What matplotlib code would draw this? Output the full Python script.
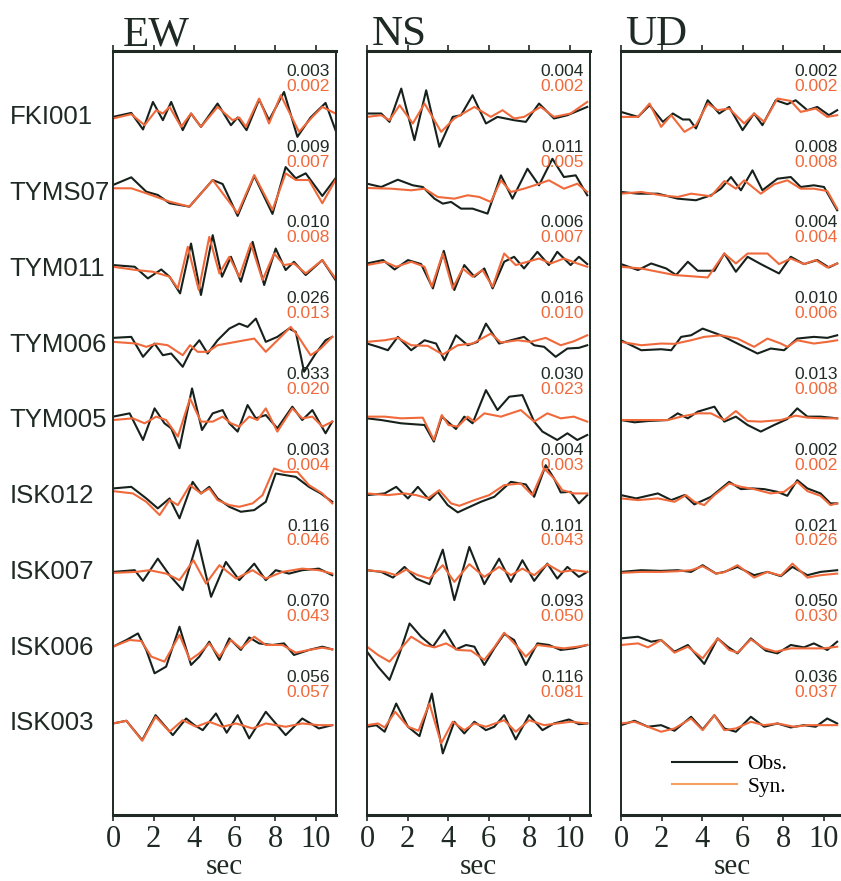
import numpy as np
import matplotlib.pyplot as plt
from matplotlib.lines import Line2D
from matplotlib.transforms import blended_transform_factory

plt.rcParams['font.family'] = ['Liberation Sans', 'DejaVu Sans']

stations = ['FKI001', 'TYMS07', 'TYM011', 'TYM006', 'TYM005',
            'ISK012', 'ISK007', 'ISK006', 'ISK003']
components = ['EW', 'NS', 'UD']

# peak amplitudes printed above each trace
ew_obs_max = ['0.003', '0.009', '0.010', '0.026', '0.033', '0.003', '0.116', '0.070', '0.056']
ew_syn_max = ['0.002', '0.007', '0.008', '0.013', '0.020', '0.004', '0.046', '0.043', '0.057']
ns_obs_max = ['0.004', '0.011', '0.006', '0.016', '0.030', '0.004', '0.101', '0.093', '0.116']
ns_syn_max = ['0.002', '0.005', '0.007', '0.010', '0.023', '0.003', '0.043', '0.050', '0.081']
ud_obs_max = ['0.002', '0.008', '0.004', '0.010', '0.013', '0.002', '0.021', '0.050', '0.036']
ud_syn_max = ['0.002', '0.008', '0.004', '0.006', '0.008', '0.002', '0.026', '0.030', '0.037']

# (sec, deflection); deflection in units where 76 = trace spacing
EW_FKI001_OBS = [(0, 0.3), (0.9, 4.3), (1.48, -12.3), (1.97, 15.3), (2.46, -3), (2.87, 15.3), (3.44, -13), (3.85, 3.7), (4.34, -9.7), (5.16, 13.7), (5.82, -8), (6.15, -0.3), (6.59, -13), (7.21, 17.7), (7.7, -3), (8.44, 25.3), (9.1, -19.7), (9.75, -0.3), (10.49, 14.3), (10.98, -13)]
EW_FKI001_SYN = [(0, -1.3), (0.9, 3), (1.56, -8), (2.13, 7), (2.46, 3.7), (2.79, 10.3), (3.36, -9.7), (3.85, 3.7), (4.34, -9.7), (5.16, 10.3), (5.9, -3), (6.23, -0.3), (6.56, -9.7), (7.21, 18.7), (7.7, -6.3), (8.28, 22), (9.18, -14.7), (9.84, 0.3), (10.33, 10.3), (10.98, 3.7)]
EW_TYMS07_OBS = [(0, 8), (0.9, 15.7), (1.64, 1.3), (2.21, -2), (2.79, -10.3), (3.77, -13.7), (4.92, 13), (5.41, 9), (6.15, -23), (6.97, 17), (7.87, -21), (8.52, 26), (9.02, 14.7), (9.51, 19.7), (10.33, -3), (10.98, 14.7)]
EW_TYMS07_SYN = [(0, 4.7), (0.9, 4.7), (1.64, -0.3), (2.79, -8.7), (3.77, -13.7), (4.92, 13), (6.15, -20.3), (6.97, 18), (7.87, -17), (8.52, 19.7), (9.02, 13), (9.67, 13), (10.33, -10.3), (10.98, 13)]
EW_TYM011_OBS = [(0, 3.7), (1.07, 2), (1.72, -9.7), (2.38, -0.7), (2.79, -8), (3.31, -24.7), (3.85, 25.3), (4.34, -26.3), (4.92, 33.7), (5.38, -8), (5.82, 12), (6.31, -13), (6.89, 27), (7.46, -16.3), (8.03, 20.3), (8.52, -1.3), (8.93, 7), (9.51, -6.3), (10.33, 8.7), (10.98, -11.3)]
EW_TYM011_SYN = [(0, 2), (1.15, -1.3), (1.97, -3), (2.79, -8), (3.2, -19.7), (3.69, 22), (4.23, -21.3), (4.75, 32), (5.25, -4.7), (5.74, 12), (6.23, -8), (6.8, 25.3), (7.38, -11.3), (7.95, 15.3), (8.44, 3.7), (8.93, 5.3), (9.51, -4.7), (10.33, 8.7), (10.98, -9.7)]
EW_TYM006_OBS = [(0, 6.7), (0.9, 7.7), (1.48, -12.3), (2.05, 1), (2.46, -10.7), (2.87, -9), (3.44, -22.3), (3.85, -5.7), (4.26, 4.3), (4.67, -9), (5.16, 4.3), (5.74, 16), (6.23, 21), (6.64, 17.7), (7.05, 26), (7.54, 2.7), (8.11, 7.7), (8.69, 16), (9.02, 12.7), (9.43, -27.3), (10.0, -9), (10.49, 4.3), (10.82, 7.7)]
EW_TYM006_SYN = [(0, 2.7), (1.15, 1), (1.64, -2.3), (2.13, 1), (2.7, -0.7), (3.44, -10.7), (3.8, -0.7), (4.18, -7.3), (4.67, -7.3), (5.16, -0.7), (6.07, 2.7), (6.97, 6), (7.54, -7.3), (8.2, 6), (8.77, 17.7), (9.1, 9.3), (9.75, -10.7), (10.25, -4), (10.82, 7.7)]
EW_TYM005_OBS = [(0, 3.7), (0.82, 7), (1.48, -19.7), (2.05, 12), (2.54, -3), (2.87, -8), (3.28, -28), (3.9, 32), (4.39, -9.7), (4.92, 7), (5.41, 10.3), (5.74, -3), (6.15, -11.3), (6.64, 15.3), (7.05, 2), (7.54, 5.3), (8.11, -8), (8.85, 13.7), (9.34, 0.3), (9.84, 10.3), (10.49, -13), (10.82, -1.3)]
EW_TYM005_SYN = [(0, 0.3), (0.98, 2), (1.56, -3), (2.13, 3.7), (2.62, 0.3), (3.2, -16.3), (3.8, 22), (4.34, -1.3), (4.92, -1.3), (5.41, 3.7), (5.82, -3), (6.23, -6.3), (6.72, 3.7), (7.13, 0.3), (7.54, 12), (8.11, -11.3), (8.85, 12), (9.34, 2), (9.84, 3.7), (10.33, -6.3), (10.82, -1.3)]
EW_ISK012_OBS = [(0, 7.7), (0.9, 9.3), (1.64, -2.3), (2.21, -12.3), (2.79, -2.3), (3.28, -22.3), (3.93, 14.3), (4.34, 2.7), (4.75, 9.3), (5.16, -2.3), (5.74, -10.7), (6.31, -15.7), (6.97, -14), (7.54, -5.7), (8.03, 22.7), (8.52, 21), (9.02, 19.3), (9.67, 9.3), (10.25, 2.7), (10.82, -5.7)]
EW_ISK012_SYN = [(0, 5), (0.98, 2.7), (1.64, -5.7), (2.3, -19), (2.79, -4), (3.2, -9), (3.8, 11), (4.34, 2.7), (4.75, 7.7), (5.16, -4), (5.74, -9), (6.23, -10.7), (6.89, -7.3), (7.38, 1), (7.95, 27.7), (8.44, 24.3), (9.1, 24.3), (9.67, 11), (10.33, 2.7), (10.82, -7.3)]
EW_ISK007_OBS = [(0, 0), (1.07, 1.7), (1.48, -9), (2.21, 13.3), (2.79, -3.3), (3.44, -18.3), (4.18, 31.7), (4.84, -25), (5.57, 10), (6.23, -8.3), (6.97, 8.3), (7.54, -8.3), (8.03, 1.7), (8.69, -1.7), (9.34, 1.7), (10.16, 3.3), (10.82, -3.3)]
EW_ISK007_SYN = [(0, -1), (1.15, 0), (1.8, 1.7), (2.62, -1.7), (3.28, -8.3), (3.97, 11.7), (4.59, -11.7), (5.25, 6.7), (6.07, -6.7), (6.89, 1.7), (7.54, -6.7), (8.36, 0), (9.34, 3.3), (10.16, 1.7), (10.82, -1.7)]
EW_ISK006_OBS = [(0, 1), (0.66, 7.7), (1.23, 14.3), (1.64, -2.3), (2.05, -25.7), (2.62, -19), (3.28, 21), (3.85, -17.3), (4.26, -9), (4.75, 6), (5.25, -12.3), (5.74, 9.3), (6.31, -2.3), (6.72, 10.3), (7.21, 4.3), (7.87, 2.7), (8.44, 4.3), (8.93, -7.3), (9.67, -2.3), (10.33, 1), (10.82, -1.7)]
EW_ISK006_SYN = [(0, 1), (0.82, 7.7), (1.39, 6.7), (1.89, -9), (2.54, -14), (3.28, 12.7), (3.8, -12.3), (4.26, -5.7), (4.75, 4.3), (5.25, -9), (5.82, 7.7), (6.31, -0.7), (6.97, 11), (7.54, 2.7), (8.36, 2.7), (9.02, -5), (9.67, -2.3), (10.33, 0), (10.82, -1.7)]
EW_ISK003_OBS = [(0, 0), (0.66, 2.7), (1.44, -16.7), (2.1, 8.3), (2.95, -11.7), (3.61, 5), (4.02, -1.7), (4.43, -6.7), (5.08, 10), (5.61, -9.3), (6.15, 8.3), (6.72, -15), (7.54, 11.7), (8.52, -11.7), (9.34, 5), (10.16, -5), (10.82, -1.7)]
EW_ISK003_SYN = [(0, 0), (0.66, 2.7), (1.44, -17.3), (2.1, 6.7), (2.79, -8.3), (3.44, 3.3), (4.1, -3.3), (4.75, 1.7), (5.41, -3.3), (6.07, 0), (6.89, -5), (7.54, 0), (8.52, -3.3), (9.34, 0), (10.16, -1.7), (10.82, -1.7)]

NS_FKI001_OBS = [(0, 3.7), (0.7, 3.7), (1.11, -4.7), (1.69, 28.7), (2.34, -23), (2.92, 27), (3.57, -29.7), (4.23, 0.3), (4.64, 2), (5.21, 22), (5.87, -6.3), (6.44, 0.3), (7.26, -3), (7.84, -4.7), (8.49, 13.7), (9.23, -1.3), (9.89, 2), (10.87, 10.3)]
NS_FKI001_SYN = [(0, 0.3), (0.7, 2), (1.11, -3), (1.61, 12), (2.26, -6.3), (2.84, 13.7), (3.66, -14.7), (4.31, -1.3), (5.3, 10.3), (6.11, 0.3), (6.69, 7), (7.26, -1.3), (7.75, 0.3), (8.57, 10.3), (9.23, 0.3), (10.05, 3.7), (10.87, 15.3)]
NS_TYMS07_OBS = [(0, 9.3), (0.7, 6), (1.52, 13.3), (2.26, 7.7), (2.75, 6), (3.33, -5.7), (3.74, -10.7), (4.15, -9), (4.64, -15.7), (5.21, -15.7), (5.95, -20.7), (6.61, 17.7), (7.18, -5.7), (7.92, 24.3), (8.49, 7.7), (9.15, 34.3), (9.72, 16), (10.3, 17.7), (10.87, -2.3)]
NS_TYMS07_SYN = [(0, 5), (1.2, 4.3), (2.18, 2.7), (2.84, 4.3), (3.49, -4), (4.31, -5.7), (4.97, -2.3), (5.54, -4), (6.11, -9), (6.61, 12.7), (7.1, 1), (7.75, 4.3), (8.41, 8.7), (8.98, 12.7), (9.72, 4.3), (10.38, 9.3), (10.87, 1)]
NS_TYM011_OBS = [(0, 5.3), (0.79, 8.7), (1.36, -0.7), (2.02, 8.7), (2.67, 4.7), (3.25, -19.7), (3.79, 18), (4.31, -21.3), (4.8, 3.7), (5.3, -8), (5.79, 0.3), (6.2, -19.7), (6.77, 7), (7.26, 12), (7.75, 0.3), (8.41, 17), (8.98, 3.7), (9.39, 17), (10.05, 3.7), (10.46, 12), (10.87, 4.7)]
NS_TYM011_SYN = [(0, 3.7), (0.87, 7), (1.44, 2), (2.18, 7), (2.84, 2), (3.2, -18), (3.74, 15.3), (4.23, -19.7), (4.72, 0.3), (5.21, -8), (5.7, -1.3), (6.2, -18), (6.77, 15.3), (7.34, 3.7), (7.92, 7), (8.49, 10.3), (9.07, 5.3), (9.72, 10.3), (10.38, 5.3), (10.87, 2)]
NS_TYM006_OBS = [(0, 1), (0.54, -2.3), (1.03, -5.7), (1.52, 7.7), (2.18, -5.7), (2.84, 4.3), (3.41, 1), (3.82, -15.7), (4.39, 9.3), (4.97, -0.7), (5.46, 2.7), (5.87, 21), (6.52, 1), (7.1, 4.3), (7.75, 7.7), (8.25, -0.7), (8.74, -2.3), (9.31, -12.3), (9.89, -4), (10.46, -3.3), (10.87, -0.7)]
NS_TYM006_SYN = [(0, 2.7), (0.87, 4.3), (1.52, 6.7), (2.18, -0.7), (3.0, -1.3), (3.74, -10), (4.48, -0.7), (5.21, 1), (6.11, 11), (6.61, 2), (7.43, 4.3), (8.08, 2.7), (8.82, 6.7), (9.56, -0.7), (10.21, 3.3), (10.87, 9.3)]
NS_TYM005_OBS = [(0, 2), (0.7, 0.3), (1.69, -3), (2.84, -4.7), (3.3, -21.3), (3.69, 3.7), (3.98, -1.3), (4.39, -8.7), (4.8, 3.7), (5.21, -3), (5.87, 30.3), (6.44, 10.3), (7.02, 23.7), (7.67, 25.3), (8.25, -1.3), (8.66, -11.3), (9.39, -19.7), (9.89, -13), (10.38, -19.7), (10.87, -14.7)]
NS_TYM005_SYN = [(0, 3.7), (0.87, 3.7), (1.69, 2), (2.75, 2.7), (3.3, -19.7), (3.69, 5.3), (4.02, -4.7), (4.48, -6.3), (4.97, 3.7), (5.3, -1.3), (5.79, 7), (6.61, 3.7), (7.59, 10.3), (8.25, -1.3), (8.9, 7), (9.56, 2), (10.21, 3.7), (10.87, -1.3)]
NS_ISK012_OBS = [(0, 1), (0.87, 2.7), (1.44, 9.3), (2.02, -2.3), (2.51, 9.3), (3.08, -4), (3.49, 4.3), (3.98, -9), (4.48, -16.3), (4.97, -11.7), (5.62, -5.7), (6.28, -0.7), (7.1, 14.3), (7.84, 11.7), (8.25, -0.7), (8.82, 31), (9.23, 17.7), (9.56, 3.7), (10.05, 4.3), (10.46, -7.3), (10.87, 1)]
NS_ISK012_SYN = [(0, 2.7), (1.03, 1), (1.85, 2.7), (2.43, 1), (3.0, -2.3), (3.57, 6), (4.15, -7.3), (4.56, -9.7), (5.3, -4), (6.03, 1), (6.77, 11), (7.59, 12.7), (8.16, 1), (8.74, 27.7), (9.23, 17.7), (9.64, 6), (10.21, 2.7), (10.87, 2.7)]
NS_ISK007_OBS = [(0, 1.7), (0.7, 0), (1.28, -5.7), (1.85, 5), (2.43, -6.7), (3.08, -12.3), (3.74, 22.3), (4.31, -28.3), (5.05, 25), (5.79, -12.3), (6.52, 13.3), (7.1, -10), (7.67, 11.7), (8.25, -9), (8.9, 8.3), (9.39, -6.7), (9.89, 5), (10.46, -5), (10.87, 0)]
NS_ISK007_SYN = [(0, 1.7), (0.87, 0), (1.44, -3.3), (1.93, 2.3), (2.51, -3.3), (3.08, -6.7), (3.74, 6.7), (4.31, -10), (5.05, 7.7), (5.79, -5), (6.52, 5), (7.1, -3.3), (7.67, 3.3), (8.25, -3.3), (8.9, 7.7), (9.56, 0), (10.21, 1.7), (10.87, 0)]
NS_ISK006_OBS = [(0, -4), (0.54, -19), (1.11, -32.3), (1.61, -5.7), (2.1, 24.3), (2.67, 11), (3.25, 1), (3.82, 17.7), (4.39, -1.7), (4.89, 2.7), (5.3, 1), (5.79, -17.3), (6.28, -0.7), (6.77, 13.7), (7.26, 7.7), (7.84, -17.3), (8.41, 4.3), (8.98, 2.7), (9.56, -2.3), (10.21, -0.7), (10.87, 2.7)]
NS_ISK006_SYN = [(0, 1), (0.54, -7.3), (1.11, -14), (1.61, -2.3), (2.18, 11), (2.84, 2.7), (3.33, 0.3), (3.9, 4.3), (4.48, -2.3), (5.13, -3), (5.79, -12.3), (6.28, 0.3), (6.77, 15), (7.34, 2.7), (7.84, -9), (8.41, 2.7), (9.07, 1), (9.72, -0.7), (10.38, 1), (10.87, 2.7)]
NS_ISK003_OBS = [(0, -3.3), (0.46, -1.7), (0.87, -8.3), (1.44, 20), (2.02, -3.3), (2.59, -12.7), (3.2, 30), (3.74, -30), (4.31, 1.7), (4.8, -10), (5.3, 1.7), (5.87, -6.7), (6.28, -3.3), (6.77, 8.3), (7.34, -16), (8.0, 8.3), (8.66, -6.7), (9.23, 0), (9.97, 4), (10.46, -0.7), (10.87, 0)]
NS_ISK003_SYN = [(0, -1.7), (0.54, 0), (0.87, -4), (1.39, 11.7), (2.02, -3.3), (2.54, -7.3), (3.08, 20), (3.66, -20), (4.23, 1.7), (4.8, -6.7), (5.3, 0), (5.87, -3.3), (6.77, 3.3), (7.34, -8.3), (8.0, 3.3), (8.74, -1.7), (9.39, 0), (10.05, 1.7), (10.87, 0)]

UD_FKI001_OBS = [(0, 5.3), (0.84, 0.3), (1.41, 12), (2.07, -4.7), (2.56, 3.7), (3.05, -2.3), (3.38, -2.3), (3.7, -11.3), (4.28, 17), (4.85, 3.7), (5.34, 10.3), (6.0, -13), (6.57, 3.7), (6.98, -8), (7.64, 17), (8.21, 13), (8.62, 17), (9.2, 7), (9.69, 10.3), (10.26, 2), (10.67, 7)]
UD_FKI001_SYN = [(0, 0.3), (0.84, 0.3), (1.41, 13.7), (1.98, -9.7), (2.48, 2), (3.13, -14.7), (3.7, -8), (4.28, 13.7), (4.77, 7), (5.34, 8.7), (6.08, -6.3), (6.57, 3.7), (7.07, -4.7), (7.72, 18.7), (8.38, 16.3), (8.87, 5.3), (9.61, 8.7), (10.18, 0.3), (10.67, 2)]
UD_TYMS07_OBS = [(0, 1), (0.84, -0.7), (1.82, -0.7), (2.8, -5.7), (3.7, -7.3), (4.44, -2.3), (4.93, 4.3), (5.43, 16), (5.92, 2.7), (6.49, 22.7), (6.98, 2.7), (7.72, 14.3), (8.38, 16), (8.87, 6), (9.52, 7.7), (10.02, 6), (10.67, -17.3)]
UD_TYMS07_SYN = [(0, -0.7), (1.0, 1), (1.98, -2.3), (2.8, -4), (3.46, -0.7), (4.44, -3.3), (5.1, 12), (5.67, 4.3), (6.08, 12.7), (6.9, -0.7), (7.56, 8.7), (8.21, 12.7), (8.87, 4.3), (9.52, 4.3), (10.18, 2), (10.67, -15.7)]
UD_TYM011_OBS = [(0, 4.7), (0.84, -1.3), (1.49, 5.3), (2.23, 0.3), (2.72, -6.3), (3.3, 7), (3.79, -2), (4.61, -2), (5.1, 15.3), (5.67, -3), (6.25, 12), (6.9, 4.7), (7.8, -4.7), (8.38, 12), (9.03, 4.7), (9.69, 8.7), (10.26, 1.3), (10.67, 5.3)]
UD_TYM011_SYN = [(0, 2), (1.0, 0.3), (2.64, -6.3), (4.28, -8.7), (5.1, 15.3), (5.67, 5.3), (6.25, 15.3), (7.23, 15.3), (7.8, 4.7), (8.38, 10.3), (9.03, 4.7), (9.61, 8.7), (10.18, 1.3), (10.67, 5.3)]
UD_TYM006_OBS = [(0, 4.3), (1.0, -5.7), (1.98, -4.7), (2.48, -5.7), (2.97, 7.7), (3.46, 9.3), (4.03, 16), (4.93, 9.3), (5.75, 1), (6.74, -9), (7.39, -4), (8.05, -5.7), (8.7, 6), (9.52, 7.7), (10.18, 6.7), (10.67, 9.3)]
UD_TYM006_SYN = [(0, 2.7), (1.0, -0.7), (1.98, 1), (2.64, 0.7), (3.46, 4.3), (4.11, 7.7), (4.93, 9.3), (5.75, 6), (6.57, -2.3), (7.23, 6), (7.89, 1), (8.21, -2.3), (8.7, 4.3), (9.52, 1), (10.18, 2.7), (10.67, 4.3)]
UD_TYM005_OBS = [(0, 0.3), (0.67, -2), (1.33, -0.7), (2.31, 0.3), (2.8, 7), (3.3, 2), (3.79, 8.7), (4.61, 13.7), (5.1, -1.3), (5.67, 3.7), (6.25, -4.7), (6.9, -11.3), (7.56, -4.7), (8.21, 1.3), (8.7, 12), (9.2, 3.7), (9.85, 3.7), (10.67, 2)]
UD_TYM005_SYN = [(0, 0.3), (1.0, 0.3), (2.31, 0.3), (2.97, 3.7), (3.79, 7), (4.44, 7), (5.1, 0.3), (5.67, 9.3), (6.25, -0.7), (6.9, -1.3), (7.89, 0.3), (8.62, 4.7), (9.2, 2.7), (10.02, 2), (10.67, 2)]
UD_ISK012_OBS = [(0, 1), (0.75, -2.3), (1.82, 2.7), (2.48, -4), (3.13, 1), (3.62, -8.3), (4.44, -0.7), (5.34, 14.3), (5.92, 7), (6.49, 7.7), (7.07, 7), (7.72, 4.3), (8.21, 0.3), (8.7, 16), (9.2, 7.7), (9.85, 2.7), (10.34, -7.3), (10.67, -7.3)]
UD_ISK012_SYN = [(0, -2.3), (0.84, -4), (1.82, -2.3), (2.64, -5.7), (3.21, 1), (3.62, -5.7), (4.11, -9), (4.61, 1), (5.34, 12.7), (5.92, 9.3), (6.57, 7), (7.39, 2.7), (8.05, 4.3), (8.7, 14.3), (9.2, 5), (9.85, 0.3), (10.34, -9), (10.67, -7.3)]
UD_ISK007_OBS = [(0, 0), (1.0, 1.7), (1.98, 1), (2.8, 1.7), (3.46, 0), (4.03, 6.7), (4.69, -1.7), (5.1, 0), (5.75, 5), (6.57, -3.3), (7.23, 0), (7.89, -4.3), (8.46, 5), (9.2, -3.3), (9.85, 0), (10.67, 1.7)]
UD_ISK007_SYN = [(0, -1), (1.0, 0), (1.98, 0), (2.8, 0.7), (3.46, 1.7), (4.03, 5.7), (4.69, -1.7), (5.1, -0.3), (5.75, 6.7), (6.57, -5.7), (7.23, 0), (7.89, -3.7), (8.46, 8.3), (9.2, -5.7), (9.85, -3.3), (10.67, -1.7)]
UD_ISK006_OBS = [(0, 9.3), (0.84, 11), (1.49, 6), (1.98, 7.7), (2.64, -4), (3.3, 2.7), (4.11, -16.3), (4.77, 9.3), (5.26, 1), (5.75, -5.7), (6.41, 9.3), (7.15, -3), (7.72, -5.7), (8.38, 2.7), (9.03, 0.3), (9.52, 4.3), (10.18, -2.3), (10.67, 6)]
UD_ISK006_SYN = [(0, 2.7), (0.84, 4.3), (1.33, 0.3), (1.98, 7.7), (2.64, -5), (3.3, 1), (4.03, -10.7), (4.77, 9.3), (5.34, -2.3), (5.75, -5), (6.41, 8.3), (7.07, -0.7), (7.64, -4), (8.38, -0.7), (9.2, -0.7), (10.02, -0.7), (10.67, 1)]
UD_ISK003_OBS = [(0, -1.7), (0.67, 2.7), (1.33, -3.3), (1.98, -1.7), (2.64, -7.3), (3.46, 6.7), (4.03, -6), (4.61, 8.3), (5.1, -5), (5.67, -8.3), (6.41, 6.7), (7.07, -3.3), (7.72, 0), (8.38, -4), (9.03, -1.7), (9.61, -3.3), (10.18, 5), (10.67, 0)]
UD_ISK003_SYN = [(0, 0), (0.67, 1.7), (1.33, -3.3), (1.98, -8.3), (2.64, -5), (3.46, 5), (4.03, -6.7), (4.61, 8.3), (5.1, -6.7), (5.67, -5), (6.41, 1.7), (7.07, -1.7), (7.72, 0), (8.54, -3.3), (9.2, -1.7), (10.02, -1.7), (10.67, -1.7)]

traces = {
    'EW': [(EW_FKI001_OBS, EW_FKI001_SYN), (EW_TYMS07_OBS, EW_TYMS07_SYN), (EW_TYM011_OBS, EW_TYM011_SYN),
           (EW_TYM006_OBS, EW_TYM006_SYN), (EW_TYM005_OBS, EW_TYM005_SYN), (EW_ISK012_OBS, EW_ISK012_SYN),
           (EW_ISK007_OBS, EW_ISK007_SYN), (EW_ISK006_OBS, EW_ISK006_SYN), (EW_ISK003_OBS, EW_ISK003_SYN)],
    'NS': [(NS_FKI001_OBS, NS_FKI001_SYN), (NS_TYMS07_OBS, NS_TYMS07_SYN), (NS_TYM011_OBS, NS_TYM011_SYN),
           (NS_TYM006_OBS, NS_TYM006_SYN), (NS_TYM005_OBS, NS_TYM005_SYN), (NS_ISK012_OBS, NS_ISK012_SYN),
           (NS_ISK007_OBS, NS_ISK007_SYN), (NS_ISK006_OBS, NS_ISK006_SYN), (NS_ISK003_OBS, NS_ISK003_SYN)],
    'UD': [(UD_FKI001_OBS, UD_FKI001_SYN), (UD_TYMS07_OBS, UD_TYMS07_SYN), (UD_TYM011_OBS, UD_TYM011_SYN),
           (UD_TYM006_OBS, UD_TYM006_SYN), (UD_TYM005_OBS, UD_TYM005_SYN), (UD_ISK012_OBS, UD_ISK012_SYN),
           (UD_ISK007_OBS, UD_ISK007_SYN), (UD_ISK006_OBS, UD_ISK006_SYN), (UD_ISK003_OBS, UD_ISK003_SYN)],
}
peaks = {'EW': (ew_obs_max, ew_syn_max), 'NS': (ns_obs_max, ns_syn_max), 'UD': (ud_obs_max, ud_syn_max)}

SPACING = 76.0
OBS_C = '#17211b'
SYN_C = '#f0693a'
INK = '#1f2a24'
SERIF = 'Liberation Serif'

fig = plt.figure(figsize=(8.41, 8.81), dpi=100)
lefts = [0.1344, 0.4364, 0.7384]
title_x = [0.045, 0.02, 0.02]

for comp, left, tx in zip(components, lefts, title_x):
    ax = fig.add_axes([left, 0.0749, 0.265, 0.867])
    obs_max, syn_max = peaks[comp]
    for i, (obs, syn) in enumerate(traces[comp]):
        t, a = np.array(obs).T
        ax.plot(t, -i + a / SPACING, color=OBS_C, lw=1.5, solid_joinstyle='round')
        t, a = np.array(syn).T
        ax.plot(t, -i + a / SPACING, color=SYN_C, lw=1.5, solid_joinstyle='round')
        ax.text(10.7, -i + 46 / SPACING, obs_max[i], ha='right', va='center', fontsize=12.5, color=INK)
        ax.text(10.7, -i + 31 / SPACING, syn_max[i], ha='right', va='center', fontsize=12.5, color=SYN_C)

    ax.set_xlim(0, 11.0)
    ax.set_ylim(-9.208, 0.871)
    ax.set_yticks([])
    ax.set_xticks(np.arange(0, 11, 2))
    ax.tick_params(axis='x', top=True, direction='out', length=4, width=1.2,
                   color=INK, labelsize=22, labelcolor=INK, pad=3)
    for lab in ax.get_xticklabels():
        lab.set_fontfamily(SERIF)
    for side in ['top', 'bottom']:
        ax.spines[side].set_linewidth(2.2)
        ax.spines[side].set_color(INK)
    for side in ['left', 'right']:
        ax.spines[side].set_linewidth(1.4)
        ax.spines[side].set_color(INK)
    ax.set_xlabel('sec', fontsize=21, family=SERIF, color=INK, va='baseline')
    ax.xaxis.set_label_coords(0.5, -0.077)
    ax.text(tx, 1.008, comp, transform=ax.transAxes, fontsize=31, family=SERIF,
            color=INK, va='baseline', ha='left')

    if comp == 'EW':
        trans = blended_transform_factory(ax.transAxes, ax.transData)
        for i, st in enumerate(stations):
            ax.text(-0.463, -i, st, transform=trans, fontsize=18.5, color=INK,
                    ha='left', va='center')
    if comp == 'UD':
        handles = [Line2D([], [], color=OBS_C, lw=1.5), Line2D([], [], color='#f4a060', lw=1.5)]
        ax.legend(handles, ['Obs.', 'Syn.'], loc='lower left', bbox_to_anchor=(0.23, 0.024),
                  frameon=False, handlelength=3.0, handletextpad=0.5, labelspacing=0.1,
                  borderpad=0, borderaxespad=0, prop={'family': SERIF, 'size': 15.5})

fig.savefig('out.png', dpi=100)
